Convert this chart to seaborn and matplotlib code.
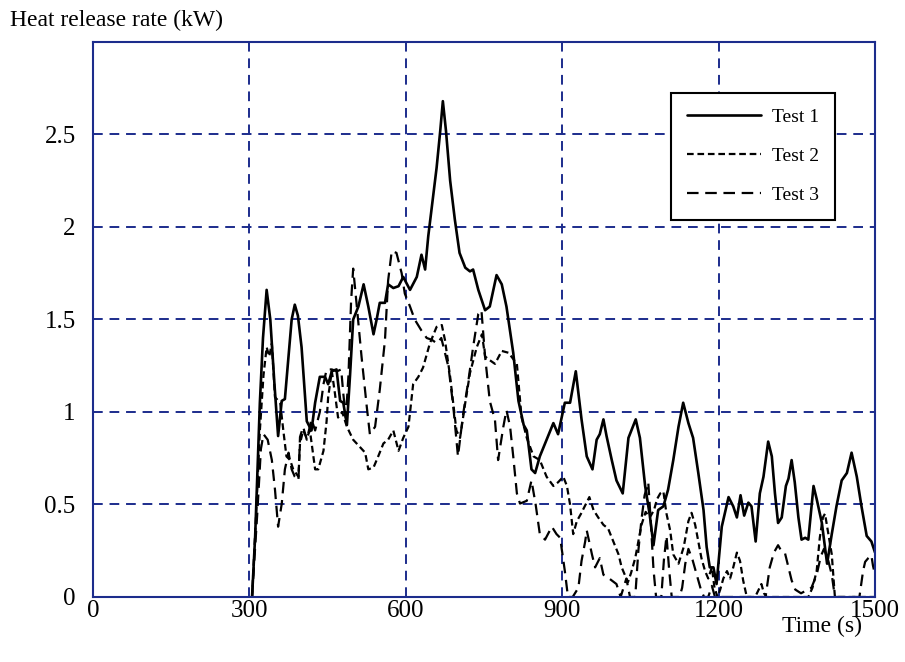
import pandas as pd
import matplotlib
matplotlib.use('Agg')
import matplotlib.pyplot as plt
import seaborn as sns

# Test 1 (solid)
t1_time = [305, 311, 320, 326, 333, 340, 348, 355, 362, 368, 375, 381, 387, 393, 400, 410, 419, 426, 435,
           445, 451, 458, 467, 474, 480, 487, 493, 499, 509, 519, 528, 538, 544, 550, 560, 566, 576, 586,
           595, 608, 621, 630, 637, 643, 650, 659, 666, 671, 677, 685, 694, 703, 714, 723, 729, 739, 752,
           761, 774, 784, 793, 806, 816, 826, 832, 841, 848, 857, 870, 883, 892, 905, 915, 926, 937, 947,
           958, 966, 972, 979, 985, 995, 1004, 1016, 1027, 1041, 1049, 1059, 1068, 1075, 1084, 1094, 1103,
           1113, 1123, 1132, 1142, 1151, 1161, 1171, 1177, 1183, 1190, 1196, 1206, 1219, 1228, 1235, 1242,
           1249, 1257, 1263, 1271, 1279, 1286, 1295, 1302, 1308, 1314, 1321, 1329, 1334, 1340, 1346, 1353,
           1359, 1366, 1372, 1382, 1388, 1398, 1408, 1417, 1426, 1436, 1446, 1455, 1465, 1474, 1484, 1493, 1500]
t1_hrr = [0.0, 0.33, 1.05, 1.40, 1.66, 1.50, 1.15, 0.87, 1.06, 1.07, 1.30, 1.50, 1.58, 1.52, 1.35, 0.95, 0.90, 1.05, 1.19,
          1.19, 1.15, 1.22, 1.23, 1.06, 1.05, 0.93, 1.20, 1.50, 1.57, 1.69, 1.57, 1.42, 1.50, 1.59, 1.59, 1.69, 1.67, 1.68,
          1.73, 1.66, 1.73, 1.85, 1.77, 1.95, 2.11, 2.32, 2.52, 2.68, 2.52, 2.25, 2.04, 1.86, 1.78, 1.76, 1.77, 1.66, 1.55,
          1.57, 1.74, 1.69, 1.57, 1.32, 1.06, 0.93, 0.90, 0.69, 0.67, 0.76, 0.85, 0.94, 0.88, 1.05, 1.05, 1.22, 0.96, 0.76,
          0.69, 0.85, 0.88, 0.96, 0.87, 0.74, 0.63, 0.56, 0.86, 0.96, 0.86, 0.60, 0.44, 0.28, 0.47, 0.49, 0.58,
          0.74, 0.92, 1.05, 0.94, 0.86, 0.67, 0.47, 0.27, 0.16, 0.16, 0.07, 0.38, 0.54, 0.49, 0.43, 0.55,
          0.44, 0.51, 0.49, 0.30, 0.56, 0.65, 0.84, 0.76, 0.56, 0.40, 0.43, 0.60, 0.64, 0.74, 0.62, 0.43,
          0.31, 0.32, 0.31, 0.60, 0.53, 0.40, 0.18, 0.34, 0.49, 0.63, 0.67, 0.78, 0.65, 0.49, 0.33, 0.30, 0.24]

# Test 2 (short dashes)
t2_time = [305, 312, 320, 327, 333, 338, 343, 349, 359, 365, 371, 378, 384, 394, 397, 403, 410, 416, 426, 432,
           442, 448, 451, 458, 464, 470, 478, 487, 499, 512, 522, 528, 538, 547, 557, 566, 576, 586, 595, 605,
           614, 624, 633, 646, 659, 669, 675, 685, 697, 704, 714, 723, 736, 746, 752, 761, 771, 784, 797, 813,
           822, 832, 845, 857, 870, 883, 892, 902, 909, 915, 921, 928, 936, 945, 952, 960, 969, 979, 988, 998,
           1008, 1014, 1020, 1026, 1032, 1040, 1046, 1052, 1060, 1068, 1076, 1082, 1088, 1094, 1100, 1107, 1113,
           1123, 1133, 1142, 1148, 1155, 1167, 1174, 1180, 1187, 1192, 1198, 1203, 1209, 1216, 1222, 1228, 1235,
           1241, 1247, 1254, 1270, 1282, 1287, 1292, 1360, 1372, 1380, 1388, 1394, 1400, 1404, 1410, 1417, 1423, 1500]
t2_hrr = [0.0, 0.40, 0.90, 1.20, 1.35, 1.30, 1.37, 1.08, 1.05, 0.90, 0.76, 0.74, 0.69, 0.65, 0.83, 0.90, 0.86, 0.90, 0.69, 0.69,
          0.79, 0.95, 1.08, 1.22, 1.10, 0.97, 1.00, 0.92, 0.85, 0.81, 0.78, 0.69, 0.70, 0.76, 0.83, 0.85, 0.90, 0.79, 0.86, 0.92,
          1.15, 1.19, 1.24, 1.37, 1.46, 1.47, 1.39, 1.19, 0.90, 0.86, 1.05, 1.21, 1.35, 1.42, 1.30, 1.28, 1.26, 1.33, 1.32, 1.26,
          0.97, 0.86, 0.76, 0.74, 0.65, 0.60, 0.62, 0.65, 0.60, 0.50, 0.34, 0.41, 0.45, 0.50, 0.54, 0.47, 0.43, 0.39, 0.37, 0.30,
          0.23, 0.16, 0.12, 0.08, 0.13, 0.21, 0.30, 0.39, 0.46, 0.43, 0.47, 0.53, 0.56, 0.57, 0.45, 0.36, 0.23,
          0.18, 0.27, 0.41, 0.455, 0.39, 0.21, 0.14, 0.10, 0.16, 0.05, 0.0, 0.04, 0.10, 0.14, 0.10, 0.16, 0.24,
          0.195, 0.09, 0.0, 0.0, 0.07, 0.02, 0.0, 0.0, 0.0, 0.05, 0.14, 0.32, 0.43, 0.45, 0.35, 0.23, 0.0, 0.0]

# Test 3 (long dashes)
t3_time = [305, 315, 322, 327, 335, 343, 349, 355, 362, 368, 375, 381, 387, 394, 397, 403, 410, 419, 426, 435,
           442, 448, 458, 468, 476, 480, 485, 490, 495, 499, 506, 515, 525, 531, 541, 550, 560, 566, 573, 582,
           592, 598, 608, 617, 630, 640, 650, 660, 668, 675, 682, 691, 700, 710, 720, 729, 739, 745, 752, 761,
           771, 777, 787, 793, 800, 806, 813, 819, 832, 841, 849, 857, 867, 880, 889, 896, 905, 911, 920, 931,
           937, 944, 947, 957, 963, 972, 979, 990, 1004, 1012, 1023, 1030, 1040, 1046, 1052, 1058, 1065, 1070,
           1075, 1080, 1090, 1095, 1100, 1105, 1110, 1125, 1130, 1136, 1142, 1150, 1160, 1166, 1172, 1180, 1187,
           1193, 1290, 1298, 1306, 1314, 1320, 1327, 1334, 1340, 1347, 1358, 1378, 1388, 1396, 1402, 1410, 1417,
           1423, 1470, 1477, 1481, 1487, 1493, 1496, 1500]
t3_hrr = [0.0, 0.45, 0.80, 0.88, 0.85, 0.74, 0.58, 0.38, 0.505, 0.69, 0.78, 0.69, 0.65, 0.63, 0.865, 0.92, 0.85, 0.96, 0.90, 1.00,
          1.15, 1.23, 1.23, 1.22, 1.23, 1.10, 0.97, 1.20, 1.60, 1.775, 1.57, 1.30, 1.03, 0.88, 0.92, 1.12, 1.39, 1.71, 1.87, 1.86,
          1.75, 1.64, 1.57, 1.50, 1.44, 1.40, 1.39, 1.37, 1.40, 1.32, 1.24, 1.03, 0.76, 0.99, 1.17, 1.35, 1.53, 1.55, 1.30, 1.06,
          0.955, 0.74, 0.92, 1.01, 0.92, 0.76, 0.56, 0.505, 0.52, 0.63, 0.50, 0.34, 0.31, 0.38, 0.34, 0.32, 0.14, 0.0, 0.0, 0.05,
          0.195, 0.30, 0.36, 0.23, 0.16, 0.21, 0.12, 0.10, 0.07, 0.0, 0.10, 0.0, 0.0, 0.25, 0.42, 0.55, 0.62, 0.40,
          0.15, 0.0, 0.0, 0.20, 0.33, 0.15, 0.0, 0.0, 0.05, 0.18, 0.26, 0.20, 0.10, 0.04, 0.0, 0.0, 0.06,
          0.0, 0.0, 0.16, 0.24, 0.28, 0.25, 0.24, 0.16, 0.09, 0.04, 0.02, 0.05, 0.12, 0.22, 0.26, 0.20, 0.12,
          0.0, 0.0, 0.14, 0.19, 0.21, 0.225, 0.17, 0.12]

x_ticks = [0, 300, 600, 900, 1200, 1500]
y_ticks = [0, 0.5, 1, 1.5, 2, 2.5]
y_tick_labels = ['0', '0.5', '1', '1.5', '2', '2.5']

navy = '#1c2c8c'

sns.set_style('white')
plt.rcParams['font.family'] = ['Liberation Serif', 'DejaVu Serif']
plt.rcParams['text.color'] = 'black'

fig = plt.figure(figsize=(9.05, 6.62), dpi=100)
ax = fig.add_axes([0.1028, 0.0982, 0.8641, 0.8384])

df1 = pd.DataFrame({'t': t1_time, 'q': t1_hrr})
df2 = pd.DataFrame({'t': t2_time, 'q': t2_hrr})
df3 = pd.DataFrame({'t': t3_time, 'q': t3_hrr})

sns.lineplot(data=df1, x='t', y='q', ax=ax, color='black', lw=1.9, label='Test 1')
sns.lineplot(data=df2, x='t', y='q', ax=ax, color='black', lw=1.6, linestyle=(0, (3.0, 1.7)), label='Test 2')
sns.lineplot(data=df3, x='t', y='q', ax=ax, color='black', lw=1.6, linestyle=(0, (5.2, 3.0)), label='Test 3')

ax.set_xlim(0, 1500)
ax.set_ylim(0, 3)
ax.set_xticks(x_ticks)
ax.set_yticks(y_ticks)
ax.set_yticklabels(y_tick_labels)
ax.set_xlabel('')
ax.set_ylabel('')

ax.grid(True, color=navy, linestyle=(0, (5, 3.5)), linewidth=1.4)
ax.set_axisbelow(True)
for s in ax.spines.values():
    s.set_color(navy)
    s.set_linewidth(1.5)
ax.tick_params(axis='both', colors=navy, labelcolor='black', labelsize=18,
               direction='inout', length=5, width=1.2)
ax.tick_params(axis='x', pad=0)
ax.tick_params(axis='y', pad=10)

leg = ax.legend(loc='upper right', bbox_to_anchor=(0.949, 0.908), borderaxespad=0, fontsize=14,
                handlelength=3.8, labelspacing=1.1, borderpad=0.8, handletextpad=0.6,
                fancybox=False, framealpha=1, edgecolor='black')
leg.get_frame().set_linewidth(1.5)
for txt in leg.get_texts():
    txt.set_color('black')

fig.text(10 / 905, 1 - 20 / 662, 'Heat release rate (kW)', fontsize=17, va='center', ha='left')
fig.text(822 / 905, 1 - 626 / 662, 'Time (s)', fontsize=17, va='center', ha='center')

fig.savefig('out.png', dpi=100)
